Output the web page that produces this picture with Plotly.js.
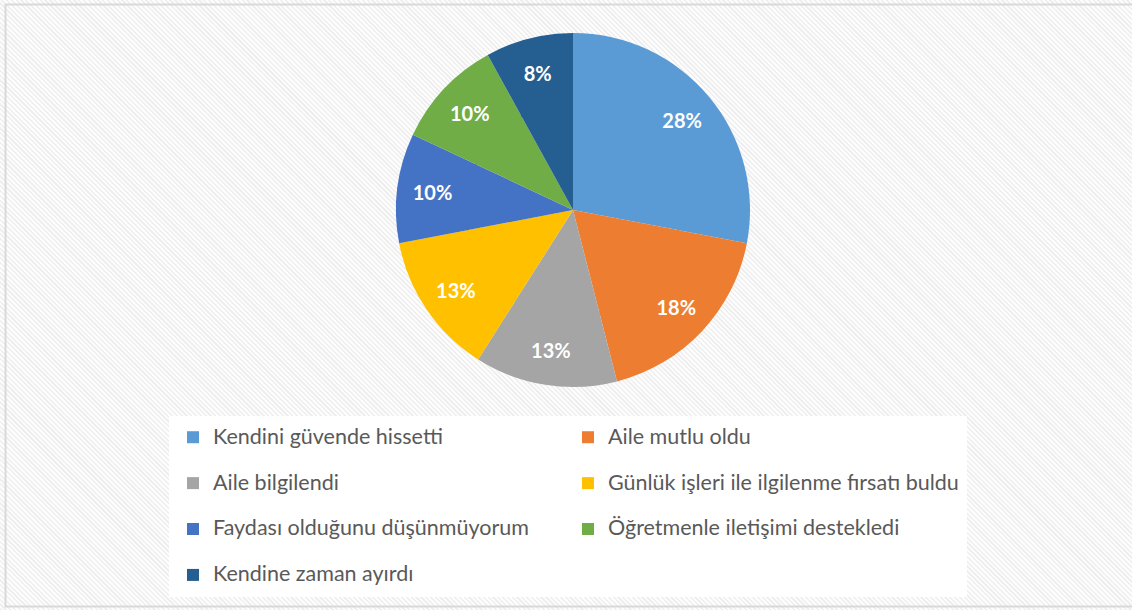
<!DOCTYPE html>
<html>
<head>
<meta charset="utf-8">
<script src="https://cdn.plot.ly/plotly-3.0.1.min.js"></script>
<style>
  html, body { margin: 0; padding: 0; }
  body {
    width: 1132px; height: 610px; overflow: hidden;
    background: repeating-linear-gradient(45deg, #efefef 0px, #efefef 1.6px, #fdfdfd 1.6px, #fdfdfd 3.4px);
  }
  #chart { width: 1132px; height: 610px; }
</style>
</head>
<body>
<div id="chart"></div>
<script>
// Data
const categories = [
  "Kendini güvende hissetti",
  "Aile mutlu oldu",
  "Aile bilgilendi",
  "Günlük işleri ile ilgilenme fırsatı buldu",
  "Faydası olduğunu düşünmüyorum",
  "Öğretmenle iletişimi destekledi",
  "Kendine zaman ayırdı"
];
const values = [28, 18, 13, 13, 10, 10, 8];
const colors = ["#5B9BD5", "#ED7D31", "#A5A5A5", "#FFC000", "#4472C4", "#70AD47", "#255E91"];

const W = 1132, H = 610;
const FONT = "Lato, 'Open Sans', 'Liberation Sans', sans-serif";

// Pie geometry (pixels)
const CX = 573, CY = 210, R = 177, HOLE = 0.6;

// Legend labels: an empty second line gives the wider row spacing of the original
const legendLabels = categories.map((c, i) =>
  '<span style="font-size:21.5px">' + c + '</span>' + (i < categories.length - 1 ? '<br>' : ''));

function dom(r) {
  return { x: [(CX - r) / W, (CX + r) / W], y: [1 - (CY + r) / H, 1 - (CY - r) / H] };
}

// inner filler (solid pie under the ring so labels sit near the outer edge)
const inner = {
  type: 'pie',
  labels: legendLabels,
  values: values,
  sort: false,
  direction: 'clockwise',
  rotation: 0,
  marker: { colors: colors, line: { width: 0 } },
  textinfo: 'none',
  showlegend: false,
  hoverinfo: 'skip',
  domain: dom(R * HOLE + 2),
  automargin: false
};

const ring = {
  type: 'pie',
  labels: legendLabels,
  values: values,
  sort: false,
  direction: 'clockwise',
  rotation: 0,
  hole: HOLE,
  marker: { colors: colors, line: { width: 0 } },
  textposition: 'inside',
  insidetextorientation: 'horizontal',
  texttemplate: '%{percent:.0%}',
  textfont: { family: FONT, size: 20, color: '#ffffff', weight: 'bold' },
  hoverinfo: 'label+percent',
  domain: dom(R),
  automargin: false
};

const layout = {
  width: W, height: H,
  margin: { l: 0, r: 0, t: 0, b: 0 },
  paper_bgcolor: 'rgba(0,0,0,0)',
  plot_bgcolor: 'rgba(0,0,0,0)',
  font: { family: FONT, color: '#595959' },
  showlegend: true,
  legend: {
    orientation: 'h',
    x: 169 / W, xanchor: 'left',
    y: 1 - 416 / H, yanchor: 'top',
    bgcolor: '#ffffff',
    bordercolor: '#ffffff',
    borderwidth: 4,
    entrywidth: 350,
    entrywidthmode: 'pixels',
    valign: 'top',
    traceorder: 'normal',
    font: { family: FONT, size: 16.5, color: '#595959' }
  },
  shapes: [{
    type: 'rect', xref: 'paper', yref: 'paper', layer: 'below',
    x0: 5.5 / W, x1: 1.02, y0: 1 - 606.5 / H, y1: 1 - 4.5 / H,
    line: { color: '#d9d9d9', width: 2 }, fillcolor: 'rgba(0,0,0,0)'
  }]
};

Plotly.newPlot('chart', [inner, ring], layout, { displayModeBar: false, staticPlot: true });
</script>
</body>
</html>
